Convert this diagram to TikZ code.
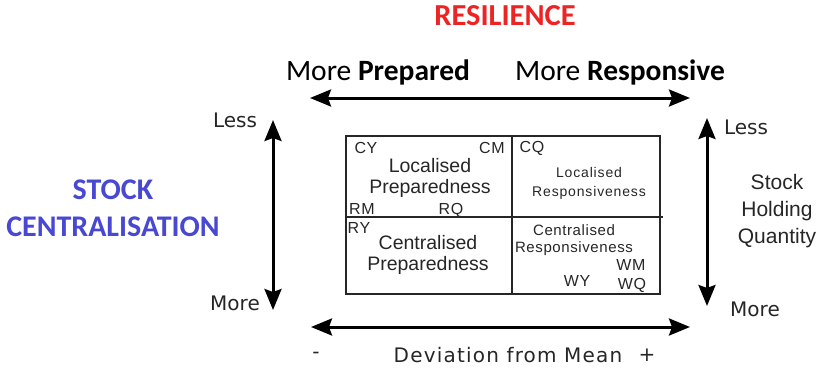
\documentclass[tikz,border=0pt]{standalone}
\usepackage{fontspec}
\setmainfont{Liberation Sans}
\newfontfamily\calib{Carlito}
\newfontfamily\dvs{DejaVu Sans}
\usetikzlibrary{arrows.meta}
\definecolor{resred}{RGB}{237,36,36}
\definecolor{stockblue}{RGB}{72,72,210}
\tikzset{
  tip/.tip={Stealth[length=21pt,width=17pt,inset=3pt]},
  bigarrow/.style={line width=3pt,{tip}-{tip}},
  axislbl/.style={font=\dvs\fontsize{20}{22}\selectfont,inner sep=0pt,text=black!85},
  headlbl/.style={font=\calib\fontsize{29.5}{31}\selectfont,inner sep=0pt},
  code/.style={font=\addfontfeatures{LetterSpace=4}\fontsize{16}{17}\selectfont,inner sep=0pt,text=black!85},
  quadbig/.style={font=\fontsize{19.5}{21}\selectfont,inner sep=0pt,align=center,text=black!85},
  quadsmall/.style={font=\addfontfeatures{LetterSpace=6}\fontsize{14}{19}\selectfont,inner sep=0pt,align=center,text=black!85},
  boxline/.style={line width=1.3pt,draw=black!85}
}
\begin{document}
\begin{tikzpicture}[x=1pt,y=-1pt]
\useasboundingbox (0,0) rectangle (819,369);
% titles
\node[font=\calib\bfseries\fontsize{30.5}{32}\selectfont,text=resred,inner sep=0pt] (res) at (505,16) {RESILIENCE};
\node[headlbl] (mp) at (378,72) {More \textbf{Prepared}};
\node[headlbl] (mr) at (620,72) {More \textbf{Responsive}};
\node[font=\calib\bfseries\fontsize{30}{37}\selectfont,text=stockblue,align=center,inner sep=0pt] (sc) at (113,208) {STOCK\\CENTRALISATION};
% arrows
\coordinate (tl) at (310,98); \coordinate (tr) at (690,98);
\draw[bigarrow] (tl) -- (tr);
\coordinate (lt) at (273,120); \coordinate (lb) at (273,310);
\draw[bigarrow] (lt) -- (lb);
\coordinate (rt) at (707,118); \coordinate (rb) at (707,306);
\draw[bigarrow] (rt) -- (rb);
\coordinate (bl) at (311,327); \coordinate (br) at (690,327);
\draw[bigarrow] (bl) -- (br);
% axis labels
\node[axislbl] (lless) at (235,120) {Less};
\node[axislbl] (lmore) at (235,303) {More};
\node[axislbl] (rless) at (746,127) {Less};
\node[axislbl] (rmore) at (755,309) {More};
\node[axislbl,align=center,font=\fontsize{21}{27}\selectfont] (shq) at (777,211) {Stock\\Holding\\Quantity};
\node[axislbl] (minus) at (316,355) {-};
\node[axislbl,font=\dvs\addfontfeatures{LetterSpace=6}\fontsize{20}{22}\selectfont] (dev) at (508,355) {Deviation from Mean};
\node[axislbl] (plus) at (647,355) {+};
% box
\coordinate (b1) at (346,136); \coordinate (b2) at (660,294);
\draw[boxline] (b1) rectangle (b2);
\coordinate (vt) at (512,136); \coordinate (vb) at (512,294);
\draw[boxline] (vt) -- (vb);
\coordinate (hl) at (346,217); \coordinate (hr) at (663,217);
\draw[boxline] (hl) -- (hr);
% quadrant texts
\node[code] (cy) at (366,148) {CY};
\node[code] (cm) at (492,148) {CM};
\node[code] (cq) at (532,148) {CQ};
\node[quadbig] (lp) at (430,178) {Localised\\Preparedness};
\node[code] (rm) at (362,209) {RM};
\node[code] (rq) at (451,210) {RQ};
\node[quadsmall] (lr) at (589,183) {Localised\\Responsiveness};
\node[code] (ry) at (359,228) {RY};
\node[quadbig] (cp) at (428,255) {Centralised\\Preparedness};
\node[quadsmall,font=\addfontfeatures{LetterSpace=4}\fontsize{15}{17}\selectfont] (cr) at (574,240) {Centralised\\Responsiveness};
\node[code] (wm) at (631,265) {WM};
\node[code] (wy) at (577,281) {WY};
\node[code] (wq) at (632,285) {WQ};
\end{tikzpicture}
\end{document}
